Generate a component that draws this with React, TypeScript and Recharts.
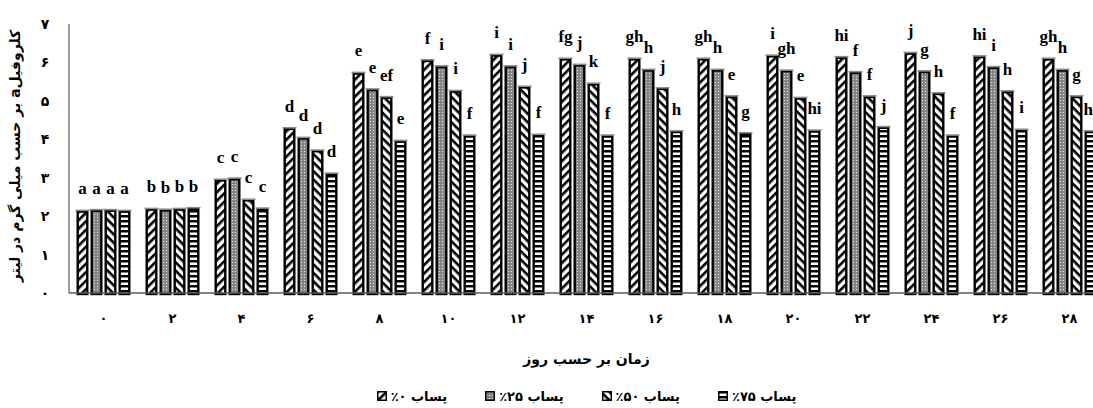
import React from 'react'
import { BarChart, Bar, XAxis, YAxis, Legend, LabelList, Label } from 'recharts'

// روزهای نمونه‌برداری
const days = ['۰', '۲', '۴', '۶', '۸', '۱۰', '۱۲', '۱۴', '۱۶', '۱۸', '۲۰', '۲۲', '۲۴', '۲۶', '۲۸']
const yTicks = [0, 1, 2, 3, 4, 5, 6, 7]
const yTickLabels = ['۰', '۱', '۲', '۳', '۴', '۵', '۶', '۷']

// کلروفیل a (میلی گرم در لیتر)
const effluent0 = [2.15, 2.2, 2.96, 4.3, 5.74, 6.07, 6.21, 6.11, 6.11, 6.11, 6.19, 6.15, 6.26, 6.17, 6.11]
const effluent25 = [2.17, 2.18, 2.99, 4.05, 5.31, 5.91, 5.91, 5.95, 5.82, 5.82, 5.8, 5.76, 5.78, 5.89, 5.82]
const effluent50 = [2.17, 2.2, 2.44, 3.72, 5.11, 5.27, 5.38, 5.46, 5.34, 5.13, 5.09, 5.13, 5.21, 5.26, 5.13]
const effluent75 = [2.15, 2.22, 2.21, 3.12, 3.97, 4.11, 4.13, 4.11, 4.22, 4.17, 4.24, 4.33, 4.11, 4.26, 4.22]

// حروف آزمون دانکن
const letters0 = ['a', 'b', 'c', 'd', 'e', 'f', 'i', 'fg', 'gh', 'gh', 'i', 'hi', 'j', 'hi', 'gh']
const letters25 = ['a', 'b', 'c', 'd', 'e', 'i', 'i', 'j', 'h', 'h', 'gh', 'f', 'g', 'i', 'h']
const letters50 = ['a', 'b', 'c', 'd', 'ef', 'i', 'j', 'k', 'j', 'e', 'e', 'f', 'h', 'h', 'g']
const letters75 = ['a', 'b', 'c', 'd', 'e', 'f', 'f', 'f', 'h', 'g', 'hi', 'j', 'f', 'i', 'hi']

const seriesNames = ['پساب ۰٪', 'پساب ۲۵٪', 'پساب ۵۰٪', 'پساب ۷۵٪']

const data = days.map((day, i) => ({
  day,
  v0: effluent0[i],
  v25: effluent25[i],
  v50: effluent50[i],
  v75: effluent75[i],
  l0: letters0[i],
  l25: letters25[i],
  l50: letters50[i],
  l75: letters75[i]
}))

const series = [
  { key: 'v0', label: 'l0', fill: 'url(#pat0)', name: seriesNames[0] },
  { key: 'v25', label: 'l25', fill: 'url(#pat25)', name: seriesNames[1] },
  { key: 'v50', label: 'l50', fill: 'url(#pat50)', name: seriesNames[2] },
  { key: 'v75', label: 'l75', fill: 'url(#pat75)', name: seriesNames[3] }
]

const FA_FONT = '"DejaVu Sans", sans-serif'

const PatternBar = (props: any) => {
  const { x, y, width, height, fill } = props
  if (!height || height <= 0) return null
  const sw = 2.4
  return (
    <g>
      <rect
        x={x + sw / 2}
        y={y + sw / 2}
        width={width - sw}
        height={height + 1 - sw / 2}
        fill={fill}
        stroke="#000"
        strokeWidth={sw}
      />
      <line x1={x - 1} x2={x + width + 1} y1={y} y2={y} stroke="#8c8c8c" strokeWidth={1.6} />
    </g>
  )
}

const LetterLabel = (props: any) => {
  const { x, y, width, value } = props
  return (
    <text
      x={x + width / 2}
      y={y - 16}
      textAnchor="middle"
      fontFamily='"Liberation Serif", serif'
      fontWeight="bold"
      fontSize={17}
      fill="#000"
    >
      {value}
    </text>
  )
}

const DayTick = (props: any) => {
  const { x, y, payload } = props
  return (
    <text x={x} y={y + 22} textAnchor="middle" fontFamily={FA_FONT} fontWeight="bold" fontSize={13} fill="#000">
      {payload.value}
    </text>
  )
}

const ValueTick = (props: any) => {
  const { y, payload } = props
  return (
    <text x={45} y={y + 5} textAnchor="middle" fontFamily={FA_FONT} fontWeight="bold" fontSize={14} fill="#000">
      {yTickLabels[payload.value]}
    </text>
  )
}

const XTitle = (props: any) => {
  const { viewBox } = props
  return (
    <text
      x={viewBox.x + viewBox.width / 2}
      y={364}
      textAnchor="middle"
      fontFamily={FA_FONT}
      fontWeight="bold"
      fontSize={14}
      fill="#000"
    >
      {'\u202Bزمان بر حسب روز\u202C'}
    </text>
  )
}

const YTitle = () => (
  <text
    x={15}
    y={156}
    dy="0.35em"
    transform="rotate(-90, 15, 156)"
    textAnchor="middle"
    fontFamily={FA_FONT}
    fontWeight="bold"
    fontSize={14}
    fill="#000"
  >
    {'\u202Bکلروفیلa بر حسب میلی گرم در لیتر\u202C'}
  </text>
)

const renderLegend = () => (
  <div style={{ display: 'flex', justifyContent: 'center', alignItems: 'center', gap: 38, height: 20 }}>
    {series.map(s => (
      <div key={s.key} style={{ display: 'flex', alignItems: 'center' }}>
        <svg width={10} height={10} style={{ marginRight: 4 }}>
          <rect x={0.75} y={0.75} width={8.5} height={8.5} fill={s.fill} stroke="#000" strokeWidth={1.5} />
        </svg>
        <span
          style={{
            display: 'inline-block',
            direction: 'rtl',
            fontFamily: FA_FONT,
            fontWeight: 'bold',
            fontSize: 13,
            color: '#000'
          }}
        >
          {s.name}
        </span>
      </div>
    ))}
  </div>
)

export default function App() {
  return (
    <div style={{ width: 1093, height: 408, overflow: 'hidden', position: 'relative', background: '#fff' }}>
      <style>{'body{margin:0}'}</style>
      <BarChart
        width={1104}
        height={408}
        data={data}
        margin={{ top: 24, right: 0, bottom: 2, left: 0 }}
        barCategoryGap={7.5}
        barGap={2}
      >
        <defs>
          <pattern id="pat0" patternUnits="userSpaceOnUse" width="6" height="6" patternTransform="rotate(-45)">
            <rect width="6" height="6" fill="#fff" />
            <rect width="6" height="2.6" fill="#000" />
          </pattern>
          <pattern id="pat25" patternUnits="userSpaceOnUse" width="3" height="3">
            <rect width="3" height="3" fill="#858585" />
            <rect x="1" y="1" width="1" height="1" fill="#e6e6e6" />
          </pattern>
          <pattern id="pat50" patternUnits="userSpaceOnUse" width="6" height="6" patternTransform="rotate(45)">
            <rect width="6" height="6" fill="#fff" />
            <rect width="6" height="2.6" fill="#000" />
          </pattern>
          <pattern id="pat75" patternUnits="userSpaceOnUse" width="6" height="5">
            <rect width="6" height="5" fill="#fff" />
            <rect width="6" height="2.5" fill="#000" />
          </pattern>
        </defs>
        <XAxis
          dataKey="day"
          height={93}
          interval={0}
          tickLine={false}
          axisLine={{ stroke: '#595959', strokeWidth: 1.5 }}
          tick={<DayTick />}
        >
          <Label content={<XTitle />} />
        </XAxis>
        <YAxis
          width={69}
          domain={[0, 7]}
          ticks={yTicks}
          interval={0}
          tickLine={false}
          axisLine={{ stroke: '#595959', strokeWidth: 1.2 }}
          tick={<ValueTick />}
        >
          <Label content={<YTitle />} />
        </YAxis>
        <Legend
          verticalAlign="bottom"
          content={renderLegend}
          wrapperStyle={{ left: 69, width: 1035, height: 20 }}
        />
        {series.map(s => (
          <Bar key={s.key} dataKey={s.key} name={s.name} fill={s.fill} shape={<PatternBar />} isAnimationActive={false}>
            <LabelList dataKey={s.label} content={<LetterLabel />} />
          </Bar>
        ))}
      </BarChart>
    </div>
  )
}
